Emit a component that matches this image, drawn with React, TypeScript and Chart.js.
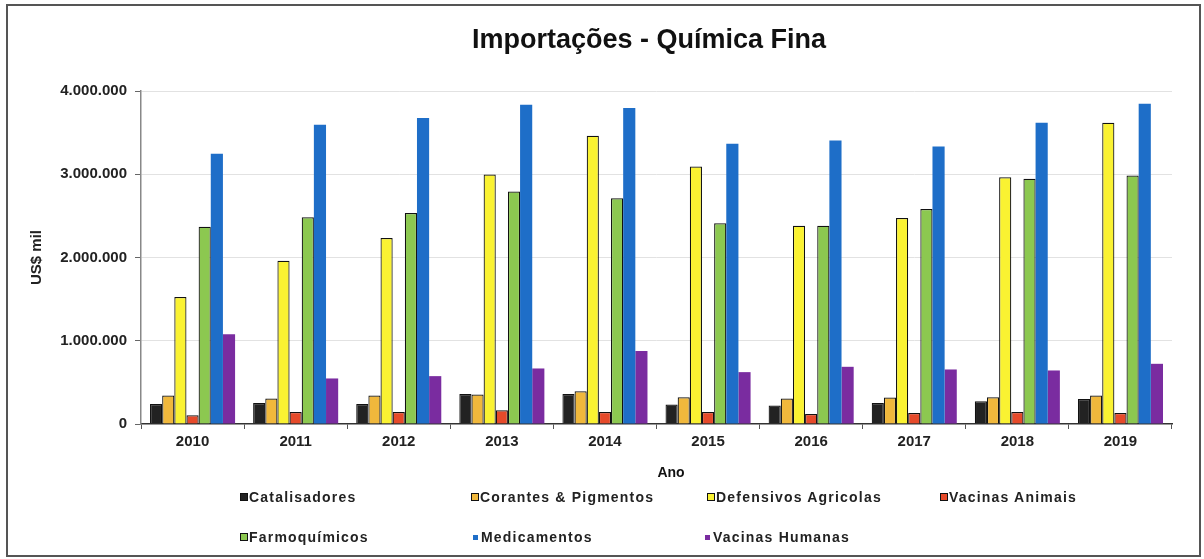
import React, { useEffect, useRef } from "react";
import { Chart, registerables } from "chart.js";

Chart.register(...registerables);

const years = ["2010", "2011", "2012", "2013", "2014", "2015", "2016", "2017", "2018", "2019"];
const catalisadores = [240000, 253000, 240000, 361000, 361000, 234000, 222000, 253000, 273000, 301000];
const corantes = [342000, 306000, 342000, 354000, 394000, 322000, 306000, 318000, 322000, 342000];
const defensivos = [1526000, 1960000, 2234000, 2996000, 3463000, 3093000, 2382000, 2475000, 2964000, 3619000];
const vacinasAnimais = [105000, 145000, 145000, 165000, 145000, 145000, 120000, 133000, 145000, 133000];
const farmoquimicos = [2370000, 2482000, 2535000, 2792000, 2711000, 2410000, 2382000, 2583000, 2945000, 2984000];
const medicamentos = [3246000, 3595000, 3675000, 3836000, 3795000, 3366000, 3406000, 3334000, 3619000, 3848000];
const vacinasHumanas = [1077000, 547000, 575000, 667000, 876000, 623000, 687000, 655000, 643000, 723000];
const yTicks = [0, 1000000, 2000000, 3000000, 4000000];

const titleText = "Importações - Química Fina";
const xTitle = "Ano";
const yTitle = "US$ mil";

const seriesNames = [
  "Catalisadores",
  "Corantes & Pigmentos",
  "Defensivos Agricolas",
  "Vacinas Animais",
  "Farmoquímicos",
  "Medicamentos",
  "Vacinas Humanas",
];
const seriesData = [catalisadores, corantes, defensivos, vacinasAnimais, farmoquimicos, medicamentos, vacinasHumanas];
const seriesColors = ["#222222", "#f0b83c", "#faf232", "#e64a2a", "#8cc850", "#1e6ec8", "#7a2ca0"];
const seriesBordered = [true, true, true, true, true, false, false];

const FONT = "'Liberation Sans', Arial, sans-serif";

const fmt = (v: number) => String(Math.round(v)).replace(/\B(?=(\d{3})+(?!\d))/g, ".");

const legendPos = [
  { left: 240, top: 497 },
  { left: 471, top: 497 },
  { left: 707, top: 497 },
  { left: 940, top: 497 },
  { left: 240, top: 537 },
  { left: 473, top: 537 },
  { left: 705, top: 537 },
];

export default function App() {
  const ref = useRef<HTMLCanvasElement | null>(null);

  useEffect(() => {
    if (!ref.current) return;
    const textPlugin = {
      id: "textPlugin",
      afterDraw(chart: any) {
        const ctx = chart.ctx;
        ctx.save();
        ctx.fillStyle = "#111";
        ctx.textAlign = "center";
        ctx.textBaseline = "alphabetic";
        ctx.font = `bold 27px ${FONT}`;
        ctx.fillText(titleText, 649, 48);
        ctx.font = `bold 14px ${FONT}`;
        ctx.fillText(xTitle, 671, 477);
        ctx.restore();
      },
    };
    const chart = new Chart(ref.current, {
      type: "bar",
      data: {
        labels: years,
        datasets: seriesNames.map((name, i) => ({
          label: name,
          data: seriesData[i],
          backgroundColor: seriesColors[i],
          borderColor: "#111",
          borderWidth: seriesBordered[i] ? 1.2 : 0,
          categoryPercentage: 0.825,
          barPercentage: 1,
        })),
      },
      options: {
        responsive: false,
        animation: false,
        layout: { padding: { left: 20, right: 32, top: 91, bottom: 0 } },
        plugins: {
          legend: { display: false },
          title: { display: false },
          tooltip: { enabled: false },
        },
        scales: {
          x: {
            offset: true,
            afterFit: (s: any) => {
              s.height = 135;
            },
            grid: {
              display: true,
              drawOnChartArea: false,
              drawTicks: true,
              tickLength: 5,
              tickColor: "#555",
              offset: true,
            },
            border: { display: true, color: "#333", width: 1.5 },
            ticks: {
              color: "#222",
              padding: 4,
              font: { family: FONT, size: 15, weight: "bold" },
            },
          },
          y: {
            min: 0,
            max: 4000000,
            afterFit: (s: any) => {
              s.width = 121;
            },
            afterBuildTicks: (s: any) => {
              s.ticks = yTicks.map((v) => ({ value: v }));
            },
            grid: {
              color: (c: any) => (c.tick && c.tick.value === 0 ? "rgba(0,0,0,0)" : "#e2e2e2"),
              tickColor: "#666",
              tickLength: 6,
              lineWidth: 1,
            },
            border: { display: true, color: "#888", width: 1.5 },
            ticks: {
              color: "#222",
              padding: 8,
              font: { family: FONT, size: 15, weight: "bold" },
              callback: (v: any) => fmt(Number(v)),
            },
            title: {
              display: true,
              text: yTitle,
              color: "#222",
              padding: { top: 8, bottom: 0 },
              font: { family: FONT, size: 15, weight: "bold" },
            },
          },
        },
      },
      plugins: [textPlugin],
    });
    return () => chart.destroy();
  }, []);

  return (
    <div style={{ position: "absolute", left: 0, top: 0, width: 1204, height: 559, background: "#fff" }}>
      <canvas ref={ref} width={1204} height={559} style={{ display: "block", position: "absolute", left: 0, top: 0 }} />
      <div
        style={{
          position: "absolute",
          left: 6,
          top: 4,
          width: 1195,
          height: 553,
          border: "2px solid #555",
          boxSizing: "border-box",
          pointerEvents: "none",
        }}
      />
      {seriesNames.map((name, i) => (
        <div
          key={name}
          style={{
            position: "absolute",
            left: legendPos[i].left,
            top: legendPos[i].top - 9,
            height: 18,
            display: "flex",
            alignItems: "center",
            fontFamily: FONT,
            fontWeight: "bold",
            fontSize: 14,
            letterSpacing: "1.2px",
            color: "#222",
            whiteSpace: "nowrap",
          }}
        >
          <span
            style={{
              display: "inline-block",
              width: seriesBordered[i] ? 8 : 5,
              height: seriesBordered[i] ? 8 : 5,
              background: seriesColors[i],
              border: seriesBordered[i] ? "1px solid #111" : "none",
              marginRight: seriesBordered[i] ? 1 : 3,
              boxSizing: "border-box",
            }}
          />
          <span>{name}</span>
        </div>
      ))}
    </div>
  );
}
